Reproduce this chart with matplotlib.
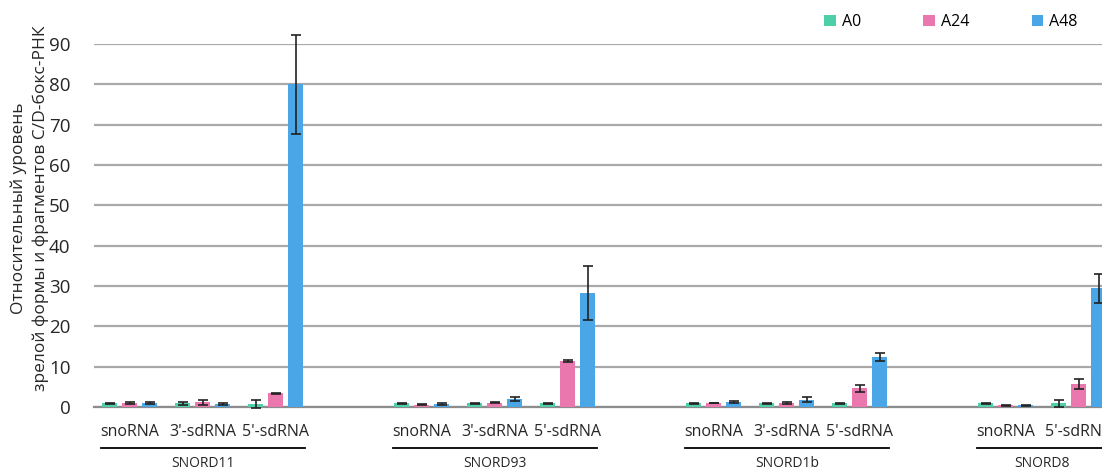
import matplotlib.pyplot as plt
import numpy as np

plt.rcParams['font.family'] = ['Open Sans', 'DejaVu Sans']

# --- data ---
genes = ["SNORD11", "SNORD93", "SNORD1b", "SNORD8"]
fragments = [
    ["snoRNA", "3'-sdRNA", "5'-sdRNA"],
    ["snoRNA", "3'-sdRNA", "5'-sdRNA"],
    ["snoRNA", "3'-sdRNA", "5'-sdRNA"],
    ["snoRNA", "5'-sdRNA"],
]
series = ["A0", "A24", "A48"]
colors = ["#4fcfa9", "#ea77ae", "#4ba6e8"]

a0 = [0.9, 0.9, 0.8,   0.9, 0.9, 0.9,   0.9, 0.9, 0.9,   0.9, 0.9]
a24 = [1.0, 1.2, 3.4,  0.6, 1.1, 11.4,  1.0, 1.0, 4.6,   0.4, 5.7]
a48 = [1.0, 0.8, 80.0, 0.7, 2.0, 28.2,  1.2, 1.8, 12.4,  0.4, 29.4]
a0_err = [0.15, 0.3, 1.0,  0.1, 0.1, 0.1,  0.1, 0.1, 0.1,  0.1, 0.8]
a24_err = [0.2, 0.6, 0.1,  0.1, 0.1, 0.2,  0.1, 0.2, 0.8,  0.1, 1.3]
a48_err = [0.2, 0.2, 12.3, 0.2, 0.6, 6.7,  0.3, 0.6, 1.0,  0.1, 3.6]

values = [a0, a24, a48]
errors = [a0_err, a24_err, a48_err]

# category slots, with one empty slot between genes
positions = []
group_spans = []
slot = 0
for frags in fragments:
    start = slot
    for _ in frags:
        positions.append(slot)
        slot += 1
    group_spans.append((start, slot - 1))
    slot += 1
positions = np.array(positions, dtype=float)
labels = [f for frags in fragments for f in frags]

fig = plt.figure(figsize=(11.02, 4.70), dpi=100)
ax = fig.add_axes([94 / 1102, 1 - 407 / 470, 1 - 94 / 1102, (407 - 44) / 470])

offset = 0.275
width = 0.205
for k, (name, vals, errs, col) in enumerate(zip(series, values, errors, colors)):
    ax.bar(positions + (k - 1) * offset, vals, width, color=col, edgecolor=col,
           linewidth=0, label=name, zorder=3)
    eb = ax.errorbar(positions + (k - 1) * offset, vals, yerr=errs, fmt='none',
                     ecolor='#222222', elinewidth=1.2, capsize=3.5, capthick=1.2, zorder=4)
    # the tallest bar's whisker reaches above the 90 line
    for art in eb.lines[1] + eb.lines[2]:
        art.set_clip_on(False)

ax.set_ylim(0, 90)
ax.set_xlim(-0.49, -0.49 + 1008 / 73)
ax.set_yticks(range(0, 91, 10))
ax.yaxis.grid(True, color='#a9a9a9', linewidth=1.6, zorder=0)
ax.set_axisbelow(True)
for side in ['top', 'right', 'left']:
    ax.spines[side].set_visible(False)
ax.spines['bottom'].set_color('#8c8c8c')
ax.spines['bottom'].set_linewidth(1.6)
ax.tick_params(axis='y', length=0, labelsize=13.5, pad=17, labelcolor='#262626')
ax.tick_params(axis='x', length=0)
ax.set_xticks([])

# two-level category labels
trans = ax.get_xaxis_transform()
for pos, lab in zip(positions, labels):
    ax.text(pos, -0.069, lab, transform=trans, ha='center', va='center',
            fontsize=11.5, color='#262626', clip_on=False)
for gene, (s, e) in zip(genes, group_spans):
    ax.plot([s - 0.4, e + 0.4], [-0.113, -0.113], transform=trans, color='black',
            linewidth=1.3, clip_on=False)
    ax.text((s + e) / 2, -0.155, gene, transform=trans, ha='center', va='center',
            fontsize=10, color='#262626', clip_on=False)

fig.text(30 / 1102, 1 - 208 / 470,
         "Относительный уровень\nзрелой формы и фрагментов C/D-бокс-РНК",
         rotation=90, ha='center', va='center', fontsize=12.5, color='#262626',
         linespacing=1.4)

fig.legend(loc='center', bbox_to_anchor=(951 / 1102, 1 - 22 / 470), ncol=3, frameon=False,
           fontsize=11.5, handlelength=0.7, handleheight=0.7, handletextpad=0.4,
           columnspacing=3.9)

fig.savefig('out.png', dpi=100)
